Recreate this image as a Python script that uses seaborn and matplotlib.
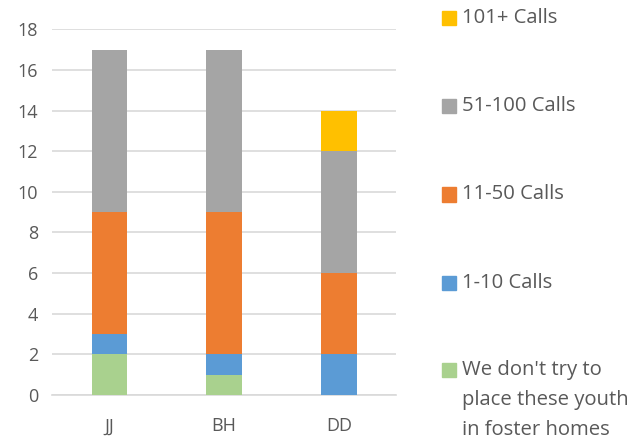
import matplotlib
matplotlib.use("Agg")
import matplotlib.pyplot as plt
import matplotlib.patches as mpatches
import numpy as np
import seaborn as sns

# data
sites = ["JJ", "BH", "DD"]
no_try = [2, 1, 0]
calls_1_10 = [1, 1, 2]
calls_11_50 = [6, 7, 4]
calls_51_100 = [8, 8, 6]
calls_101 = [0, 0, 2]

series = [
    ("We don't try to\nplace these youth\nin foster homes", no_try, "#A9D18E"),
    ("1-10 Calls", calls_1_10, "#5B9BD5"),
    ("11-50 Calls", calls_11_50, "#ED7D31"),
    ("51-100 Calls", calls_51_100, "#A5A5A5"),
    ("101+ Calls", calls_101, "#FFC000"),
]

sns.set_style("white")
plt.rcParams["font.family"] = ["Open Sans", "DejaVu Sans"]
txt_col = "#595959"

fig = plt.figure(figsize=(6.35, 4.42), dpi=100)
ax = fig.add_axes([0.082, 0.106, 0.542, 0.828])

bottom = np.zeros(len(sites))
for label, vals, col in series:
    sns.barplot(x=sites, y=vals, bottom=bottom, color=col, width=0.31,
                saturation=1, ax=ax, linewidth=0, zorder=3)
    bottom = bottom + np.array(vals)

ax.set_ylim(0, 18)
ax.set_xlim(-0.5, 2.5)
ax.set_yticks(range(0, 19, 2))
ax.grid(axis="y", color="#D9D9D9", linewidth=1.2, zorder=0)
ax.set_axisbelow(True)
for s in ["top", "right", "left"]:
    ax.spines[s].set_visible(False)
ax.spines["bottom"].set_color("#D9D9D9")
ax.spines["bottom"].set_linewidth(1.2)
ax.tick_params(axis="y", length=0, pad=10, labelsize=13, labelcolor=txt_col)
ax.tick_params(axis="x", length=0, pad=16, labelsize=13, labelcolor=txt_col)
ax.set_xlabel("")
ax.set_ylabel("")

# legend, top to bottom
ys = [0.96, 0.76, 0.56, 0.36, 0.163]
for (label, vals, col), y in zip(series[::-1], ys):
    fig.patches.append(mpatches.Rectangle((0.696, y - 0.016), 0.022, 0.032,
                                          color=col, transform=fig.transFigure))
    lines = label.split("\n")
    for i, ln in enumerate(lines):
        fig.text(0.727, y - i * 0.068, ln, fontsize=14.6, color=txt_col,
                 va="center", ha="left")

fig.savefig("out.png", dpi=100)
